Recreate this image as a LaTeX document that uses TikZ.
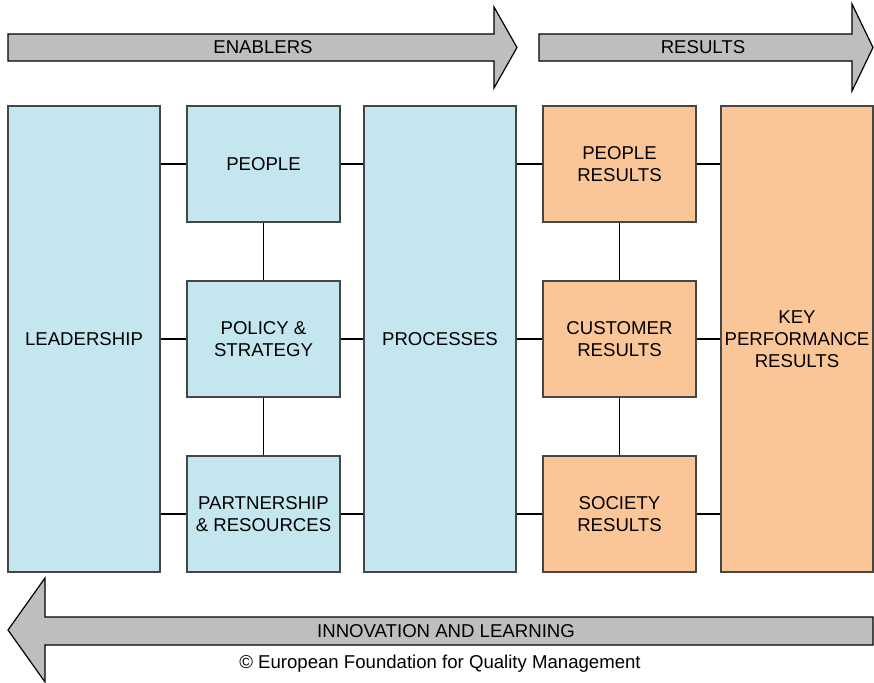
\documentclass[tikz,border=0pt]{standalone}
\usepackage{fontspec}
\setmainfont{Liberation Sans}
\usetikzlibrary{
		calc,
		positioning
	}
\definecolor{enablerblue}{RGB}{195,230,239}
\definecolor{resultorange}{RGB}{251,198,151}
\definecolor{arrowgrey}{RGB}{190,190,190}
\definecolor{boxline}{RGB}{70,70,70}
\tikzset{
		box/.style={draw=boxline, line width=0.75pt, inner sep=0pt, align=center,
			font=\fontsize{9.3}{11}\selectfont},
		enabler/.style={box, fill=enablerblue},
		result/.style={box, fill=resultorange},
		tallbox/.style={minimum width=76pt, minimum height=233pt},
		smallbox/.style={minimum width=76.5pt, minimum height=58pt},
		link/.style={draw=black, line width=0.6pt},
		bigarrow/.style={fill=arrowgrey, draw=black, line width=0.6pt},
		arrowtext/.style={inner sep=0pt, font=\fontsize{9.3}{11}\selectfont}
	}

\begin{document}
\begin{tikzpicture}[x=0.5pt,y=-0.5pt]
        \useasboundingbox (0,0) rectangle (874,682);

        % the big arrows
        \filldraw[bigarrow] (8,34) -- (494,34) -- (494,7) -- (517,47.5) -- (494,88) -- (494,61) -- (8,61) -- cycle;
        \filldraw[bigarrow] (539,34) -- (852,34) -- (852,4) -- (873,47.5) -- (852,91) -- (852,61) -- (539,61) -- cycle;
        \filldraw[bigarrow] (873,617) -- (45,617) -- (45,578) -- (8,630) -- (45,682) -- (45,645) -- (873,645) -- cycle;

        % the arrow texts
        \node[arrowtext] (enab) at (263,47.5) {ENABLERS};
        \node[arrowtext] (res) at (703,47.5) {RESULTS};
        \node[arrowtext] (innov) at (446,631) {INNOVATION AND LEARNING};
        \node[arrowtext] (efqm) at (440,664) {© European Foundation for Quality Management};

        % the enablers
        \node[enabler, tallbox] (lead) at (84,339) {LEADERSHIP};
        \node[enabler, smallbox] (ppl) at (263.5,164) {PEOPLE};
        \node[enabler, smallbox] (pol) at (263.5,339) {POLICY \&\\STRATEGY};
        \node[enabler, smallbox] (part) at (263.5,514) {PARTNERSHIP\\\& RESOURCES};
        \node[enabler, tallbox] (proc) at (440,339) {PROCESSES};

        % the results
        \node[result, smallbox] (pplres) at (619.5,164) {PEOPLE\\RESULTS};
        \node[result, smallbox] (custres) at (619.5,339) {CUSTOMER\\RESULTS};
        \node[result, smallbox] (socres) at (619.5,514) {SOCIETY\\RESULTS};
        \node[result, tallbox] (kpr) at (797,339) {KEY\\PERFORMANCE\\RESULTS};

        % the links
        \foreach \mid/\res in {ppl/pplres, pol/custres, part/socres} {
            \draw[link] (\mid.west) -- (\mid.west -| lead.east);
            \draw[link] (\mid.east) -- (\mid.east -| proc.west);
            \draw[link] (\res.west) -- (\res.west -| proc.east);
            \draw[link] (\res.east) -- (\res.east -| kpr.west);
        }
        \draw[link] (ppl) -- (pol);
        \draw[link] (pol) -- (part);
        \draw[link] (pplres) -- (custres);
        \draw[link] (custres) -- (socres);

    \end{tikzpicture}
\end{document}
